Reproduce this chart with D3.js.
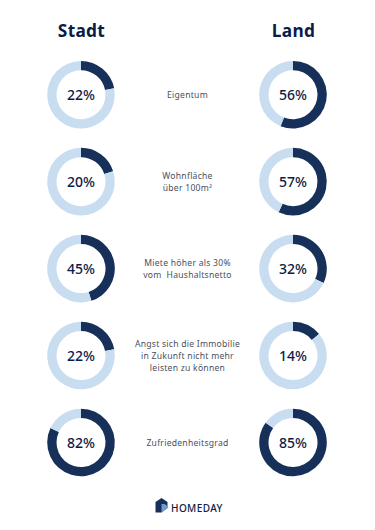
<!DOCTYPE html>
<html><head><meta charset="utf-8">
<script src="https://cdn.jsdelivr.net/npm/d3@7/dist/d3.min.js"></script>
<style>html,body{margin:0;padding:0;background:#fff}svg{display:block}</style>
</head><body><svg id="c" width="375" height="530"></svg>
<script>
const columns = ["Stadt", "Land"];
const stadtValues = [22, 20, 45, 22, 82];
const landValues = [56, 57, 32, 14, 85];
const rowLabels = [
  ["Eigentum"],
  ["Wohnfläche", "über 100m²"],
  ["Miete höher als 30%", "vom  Haushaltsnetto"],
  ["Angst sich die Immobilie", "in Zukunft nicht mehr", "leisten zu können"],
  ["Zufriedenheitsgrad"]
];
const brand = "HOMEDAY";
const dark = "#16305a", light = "#c9ddf1", ink = "#0c1c48", grey = "#4a4f5c";
const font = "'Noto Sans','Open Sans',sans-serif";

const svg = d3.select("#c").style("font-family", font);
const x = d3.scalePoint().domain(columns).range([81, 293]);
const y = d3.scalePoint().domain(d3.range(rowLabels.length)).range([94.7, 442.5]);
const arc = d3.arc().innerRadius(24.5).outerRadius(33.8);
const pie = d3.pie().sort(null);

svg.selectAll("text.head").data(columns).join("text").attr("class", "head")
  .attr("x", d => x(d) + 0.5).attr("y", 36.8).attr("text-anchor", "middle")
  .attr("font-size", 17.3).attr("font-weight", 700).attr("letter-spacing", 0.3)
  .attr("fill", ink).text(d => d);

[[columns[0], stadtValues], [columns[1], landValues]].forEach(([col, vals]) => {
  vals.forEach((v, i) => {
    const g = svg.append("g").attr("transform", `translate(${x(col)},${y(i)})`);
    g.selectAll("path").data(pie([v, 100 - v])).join("path")
      .attr("d", arc).attr("fill", (d, k) => k === 0 ? dark : light);
    g.append("text").attr("text-anchor", "middle").attr("y", 5)
      .attr("font-size", 14).attr("font-weight", 500).attr("fill", ink).text(v + "%");
  });
});

rowLabels.forEach((lines, i) => {
  const lh = 12.2;
  const t = svg.append("text").attr("text-anchor", "middle")
    .attr("font-size", 8.6).attr("letter-spacing", 0.25).attr("fill", grey)
    .style("white-space", "pre");
  lines.forEach((s, k) => t.append("tspan").attr("x", 187.5)
    .attr("y", y(i) + 3.6 + (k - (lines.length - 1) / 2) * lh).text(s));
});

// logo
const logo = svg.append("g").attr("transform", "translate(155.5,498)");
logo.append("path").attr("d", "M0 4 L6 0 L12 4 L12 10 L6 14.5 L0 14.5 Z").attr("fill", dark);
logo.append("path").attr("d", "M6 6 L9 6 L12 8 L12 10 L6 14.5 Z").attr("fill", "#6f9bd0");
svg.append("text").attr("x", 171).attr("y", 512.4).attr("font-size", 10).attr("font-weight", 500)
  .attr("letter-spacing", 0.4).attr("fill", ink).text(brand);
</script></body></html>
